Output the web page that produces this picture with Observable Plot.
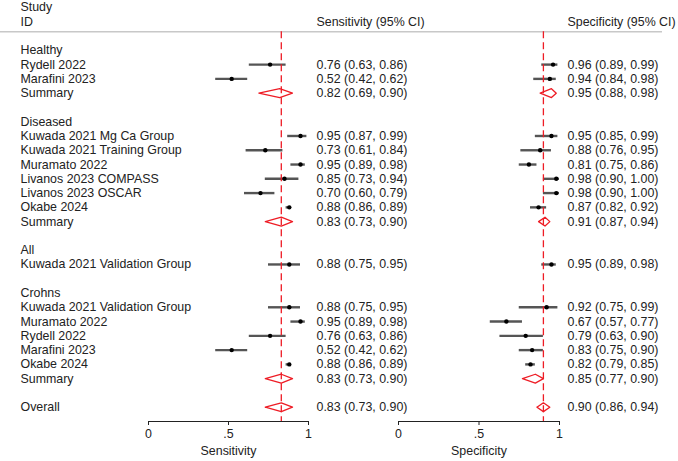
<!DOCTYPE html>
<html>
<head>
<meta charset="utf-8">
<script src="https://cdn.jsdelivr.net/npm/d3@7"></script>
<script src="https://cdn.jsdelivr.net/npm/@observablehq/plot@0.6"></script>
<style>
  body { margin: 0; background: #fff; }
  #chart { position: relative; width: 678px; height: 461px; overflow: hidden; }
  #chart svg { position: absolute; top: 0; }
</style>
</head>
<body>
<div id="chart"></div>
<script>
const labels = ["Healthy","Rydell 2022","Marafini 2023","Summary","",
  "Diseased","Kuwada 2021 Mg Ca Group","Kuwada 2021 Training Group","Muramato 2022","Livanos 2023 COMPASS","Livanos 2023 OSCAR","Okabe 2024","Summary","",
  "All","Kuwada 2021 Validation Group","",
  "Crohns","Kuwada 2021 Validation Group","Muramato 2022","Rydell 2022","Marafini 2023","Okabe 2024","Summary","",
  "Overall"];
const sensEst = [null,0.76,0.52,0.82,null,null,0.95,0.73,0.95,0.85,0.70,0.88,0.83,null,null,0.88,null,null,0.88,0.95,0.76,0.52,0.88,0.83,null,0.83];
const sensLo  = [null,0.63,0.42,0.69,null,null,0.87,0.61,0.89,0.73,0.60,0.86,0.73,null,null,0.75,null,null,0.75,0.89,0.63,0.42,0.86,0.73,null,0.73];
const sensHi  = [null,0.86,0.62,0.90,null,null,0.99,0.84,0.98,0.94,0.79,0.89,0.90,null,null,0.95,null,null,0.95,0.98,0.86,0.62,0.89,0.90,null,0.90];
const specEst = [null,0.96,0.94,0.95,null,null,0.95,0.88,0.81,0.98,0.98,0.87,0.91,null,null,0.95,null,null,0.92,0.67,0.79,0.83,0.82,0.85,null,0.90];
const specLo  = [null,0.89,0.84,0.88,null,null,0.85,0.76,0.75,0.90,0.90,0.82,0.87,null,null,0.89,null,null,0.75,0.57,0.63,0.75,0.79,0.77,null,0.86];
const specHi  = [null,0.99,0.98,0.98,null,null,0.99,0.95,0.86,1.00,1.00,0.92,0.94,null,null,0.98,null,null,0.99,0.77,0.90,0.90,0.85,0.90,null,0.94];
const headerCol = ["Study","ID"];
const panelTitles = ["Sensitivity (95% CI)","Specificity (95% CI)"];
const axisTitles = ["Sensitivity","Specificity"];
const tickValues = [0, 0.5, 1];
const tickLabels = ["0", ".5", "1"];

const RED = "#ee1c25";
const FONT = "'Liberation Sans', Arial, Helvetica, sans-serif";
const FS = 12.4;
const fmt = v => v.toFixed(2);

function panel({est, lo, hi, title, axisTitle, width, marginLeft, marginRight, showLabels, ruleInsetLeft, ruleInsetRight}) {
  const rows = labels.map((label, i) => ({row: i, label, est: est[i], lo: lo[i], hi: hi[i],
    summary: label === "Summary" || label === "Overall"}));
  const valued = rows.filter(d => d.est != null);
  const studies = valued.filter(d => !d.summary);
  const summaries = valued.filter(d => d.summary);
  const overall = summaries[summaries.length - 1];
  const h = 0.31;
  const diamonds = summaries.flatMap(d => [
    {x: d.lo, y: d.row, z: d.row}, {x: d.est, y: d.row - h, z: d.row},
    {x: d.hi, y: d.row, z: d.row}, {x: d.est, y: d.row + h, z: d.row},
    {x: d.lo, y: d.row, z: d.row}
  ]);
  const marks = [
    Plot.ruleY([-1.3], {stroke: "#c8c8c8", strokeWidth: 1.5, insetLeft: ruleInsetLeft, insetRight: ruleInsetRight}),
    Plot.ruleY([26], {x1: 0, x2: 1, stroke: "#222", strokeWidth: 1}),
    Plot.axisX({ticks: tickValues, tickFormat: d => tickLabels[tickValues.indexOf(d)], tickSize: 4, tickPadding: 4,
      label: null, fontSize: FS, color: "#222"}),
    Plot.text([axisTitle], {frameAnchor: "bottom", dy: 33, text: d => d, fill: "#222"}),
    Plot.ruleY(studies, {y: "row", x1: "lo", x2: "hi", stroke: "#555", strokeWidth: 2.4}),
    Plot.dot(studies, {x: "est", y: "row", r: 2.2, fill: "#000", stroke: "none"}),
    Plot.line(diamonds, {x: "x", y: "y", z: "z", stroke: RED, strokeWidth: 1.3, fill: "none", curve: "linear"}),
    Plot.ruleX([overall.est], {y1: -1.3, y2: 26, stroke: RED, strokeWidth: 1.3, strokeDasharray: "7,4"}),
    Plot.text(valued, {y: "row", frameAnchor: "right", dx: 8, textAnchor: "start",
      text: d => `${fmt(d.est)} (${fmt(d.lo)}, ${fmt(d.hi)})`, fill: "#222"}),
    Plot.text([title], {y: -2, frameAnchor: "right", dx: 8, textAnchor: "start", text: d => d, fill: "#222"})
  ];
  if (showLabels) {
    marks.push(Plot.text(rows.filter(d => d.label), {y: "row", frameAnchor: "left", dx: -marginLeft + 20, textAnchor: "start", text: "label", fill: "#222"}));
    marks.push(Plot.text(headerCol, {y: (d, i) => i - 3, frameAnchor: "left", dx: -marginLeft + 20, textAnchor: "start", text: d => d, fill: "#222"}));
  }
  return Plot.plot({
    width, height: 461,
    marginLeft, marginRight, marginTop: 7, marginBottom: 40,
    style: {fontFamily: FONT, fontSize: FS + "px", color: "#222", background: "transparent", overflow: "visible"},
    x: {domain: [0, 1]},
    y: {domain: [-3, 26], reverse: true, axis: null},
    marks
  });
}

const p1 = panel({est: sensEst, lo: sensLo, hi: sensHi, title: panelTitles[0], axisTitle: axisTitles[0],
  width: 340, marginLeft: 148, marginRight: 32, showLabels: true, ruleInsetLeft: -148, ruleInsetRight: -32});
const p2 = panel({est: specEst, lo: specLo, hi: specHi, title: panelTitles[1], axisTitle: axisTitles[1],
  width: 338, marginLeft: 58, marginRight: 119, showLabels: false, ruleInsetLeft: -58, ruleInsetRight: -103});
p1.style.left = "0px";
p2.style.left = "340px";
const chart = document.getElementById("chart");
chart.appendChild(p1);
chart.appendChild(p2);
</script>
</body>
</html>
